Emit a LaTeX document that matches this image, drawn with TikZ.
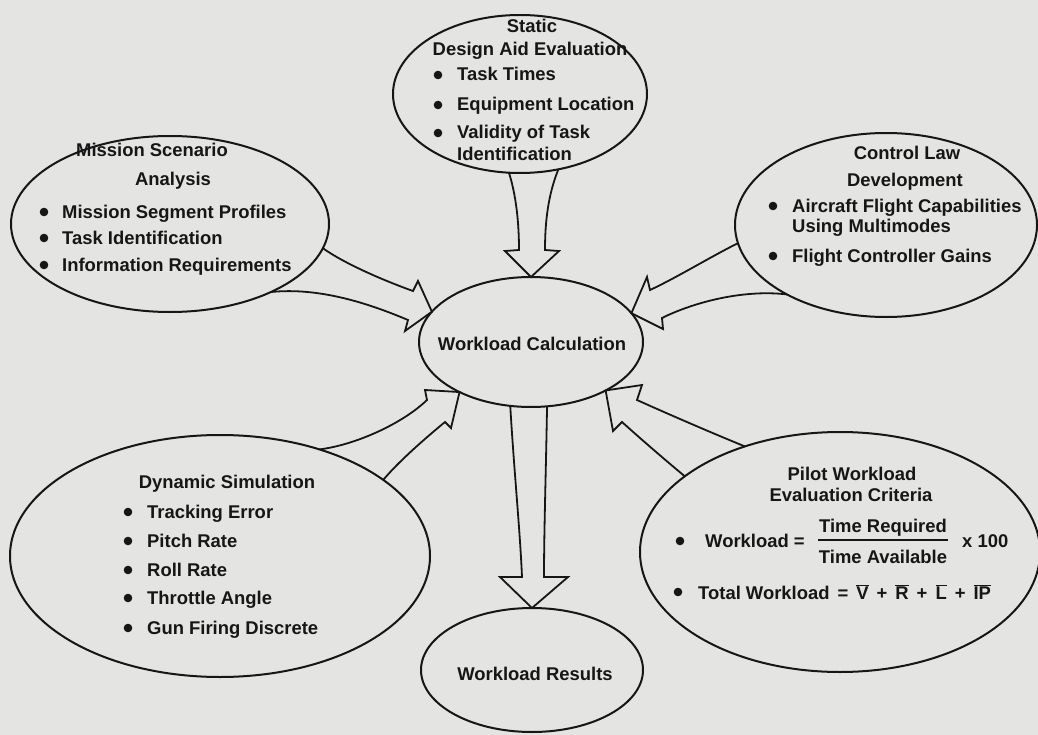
\documentclass[tikz,border=0pt]{standalone}
\usepackage{fontspec}
\setmainfont{Liberation Sans}
\usetikzlibrary{shapes.geometric}
\definecolor{paper}{RGB}{228,228,226}
\definecolor{ink}{RGB}{22,22,22}
\newcommand\diagfont{\fontsize{18.5}{22}\selectfont\bfseries}
\newcommand\obar[1]{$\overline{\hbox{#1}}$}
\newcommand\opgap{\hspace{8bp}}
\begin{document}
\begin{tikzpicture}[x=1bp,y=-1bp,
  bubble/.style={draw=ink, line width=2bp, ellipse, inner sep=0pt, outer sep=0pt, fill=paper},
  heading/.style={font=\diagfont, text=ink, inner sep=0pt, anchor=base},
  entry/.style={font=\diagfont, text=ink, inner sep=0pt, anchor=base west},
  blockarrow/.style={draw=ink, line width=1.8bp, line join=miter, miter limit=4}]

\fill[paper] (0,0) rectangle (1038,735);
\useasboundingbox (0,0) rectangle (1038,735);

% ---- ellipses ----
\node[bubble, minimum width=254bp, minimum height=158bp] (stat)  at (520,94)  {};
\node[bubble, minimum width=318bp, minimum height=176bp] (miss)  at (170,224) {};
\node[bubble, minimum width=302bp, minimum height=184bp] (ctrl)  at (886,225) {};
\node[bubble, minimum width=224bp, minimum height=130bp] (calc)  at (531,342) {};
\node[bubble, minimum width=420bp, minimum height=242bp] (dyn)   at (220,556) {};
\node[bubble, minimum width=400bp, minimum height=240bp] (pilot) at (840,552) {};
\node[bubble, minimum width=222bp, minimum height=124bp] (res)   at (532,670) {};

% ---- block arrows ----
\draw[blockarrow] (stat.-98.7) .. controls (516,195) and (519,222) .. (519,250) -- (505,251)
  -- (calc.north) -- (559,251) -- (545,250) .. controls (545,222) and (548,195) .. (stat.-63.3);
\draw[blockarrow] (miss.-9.1) .. controls (345,264) and (385,281) .. (413,291) -- (418,281)
  -- (calc.163.7) -- (405,331) -- (408,320) .. controls (370,304) and (320,287) .. (miss.-34.1);
\draw[blockarrow] (ctrl.-173.1) .. controls (712,256) and (676,278) .. (650,290) -- (647,277)
  -- (calc.16) -- (663,329) -- (662,318) .. controls (690,304) and (740,289) .. (ctrl.-145.9);
\draw[blockarrow] (dyn.47.2) .. controls (355,445) and (402,424) .. (427,400) -- (425,390)
  -- (calc.-145.8) -- (451,428) -- (445,422) .. controls (428,436) and (400,460) .. (dyn.25.6);
\draw[blockarrow] (pilot.132.2) .. controls (712,433) and (668,414) .. (637,400) -- (642,385)
  -- (calc.-33) -- (613,431) -- (622,422) .. controls (642,440) and (664,459) .. (pilot.154);
\draw[blockarrow] (calc.-108.2) .. controls (514,470) and (520,530) .. (522,577) -- (500,577)
  -- (res.north) -- (568,577) -- (544,577) .. controls (544,530) and (546,470) .. (calc.-76.6);

% ---- static design aid evaluation ----
\node[heading] (statA) at (532,33) {Static};
\node[heading] (statB) at (530,56) {Design Aid Evaluation};
\fill[ink] (438,75) circle[radius=4.3bp] (438,105) circle[radius=4.3bp] (438,133) circle[radius=4.3bp];
\node[entry] (stat1) at (457,81)  {Task Times};
\node[entry] (stat2) at (457,111) {Equipment Location};
\node[entry] (stat3) at (457,139) {Validity of Task};
\node[entry] (stat4) at (457,161) {Identification};

% ---- mission scenario analysis ----
\node[heading] (missA) at (152,157) {Mission Scenario};
\node[heading] (missB) at (173,186) {Analysis};
\fill[ink] (44,212) circle[radius=4.3bp] (44,238) circle[radius=4.3bp] (44,265) circle[radius=4.3bp];
\node[entry] (miss1) at (62,218) {Mission Segment Profiles};
\node[entry] (miss2) at (62,244) {Task Identification};
\node[entry] (miss3) at (62,271) {Information Requirements};

% ---- control law development ----
\node[heading] (ctrlA) at (907,160) {Control Law};
\node[heading] (ctrlB) at (905,187) {Development};
\fill[ink] (773,206) circle[radius=4.3bp] (773,256) circle[radius=4.3bp];
\node[entry] (ctrl1) at (792,212) {Aircraft Flight Capabilities};
\node[entry] (ctrl2) at (792,232) {Using Multimodes};
\node[entry] (ctrl3) at (792,262) {Flight Controller Gains};

% ---- workload calculation / results ----
\node[heading] (calcT) at (532,350) {Workload Calculation};
\node[heading] (resT)  at (535,680) {Workload Results};

% ---- dynamic simulation ----
\node[heading] (dynA) at (227,488) {Dynamic Simulation};
\fill[ink] (128,512) circle[radius=4.3bp] (128,541) circle[radius=4.3bp] (128,570) circle[radius=4.3bp]
           (128,598) circle[radius=4.3bp] (128,628) circle[radius=4.3bp];
\node[entry] (dyn1) at (147,518) {Tracking Error};
\node[entry] (dyn2) at (147,547) {Pitch Rate};
\node[entry] (dyn3) at (147,576) {Roll Rate};
\node[entry] (dyn4) at (147,604) {Throttle Angle};
\node[entry] (dyn5) at (147,634) {Gun Firing Discrete};

% ---- pilot workload evaluation criteria ----
\node[heading] (pilA) at (852,480) {Pilot Workload};
\node[heading] (pilB) at (851,501) {Evaluation Criteria};
\fill[ink] (680,541) circle[radius=4.3bp] (678,592) circle[radius=4.3bp];
\node[entry] (pil1) at (705,547) {Workload =};
\node[heading] (pilNum) at (883,532) {Time Required};
\draw[ink, line width=1.6bp] (818,540) -- (948,540);
\node[heading] (pilDen) at (883,563) {Time Available};
\node[entry] (pilX) at (962,547) {x 100};
\node[entry] (pil2) at (698,599) {Total Workload\opgap=\opgap\obar{V}\opgap+\opgap\obar{R}\opgap+\opgap\obar{L}\opgap+\opgap\obar{IP}};
\end{tikzpicture}
\end{document}
